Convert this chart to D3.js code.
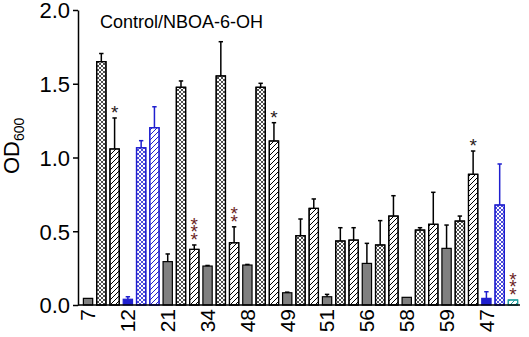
<!DOCTYPE html>
<html>
<head>
<meta charset="utf-8">
<script src="https://cdn.jsdelivr.net/npm/d3@7"></script>
<style>
  body { margin: 0; background: #fff; }
  text { font-family: "Liberation Sans", Arial, sans-serif; }
</style>
</head>
<body>
<div id="chart"></div>
<script>
// group names (x tick labels)
const groups = ["7", "12", "21", "34", "48", "49", "51", "56", "58", "59", "47"];

// solid grey bars
const solid    = [0.045, 0.039, 0.294, 0.264, 0.271, 0.083, 0.056, 0.282, 0.052, 0.384, 0.045];
const solidErr = [0, 0.017, 0.052, 0.004, 0.004, 0.004, 0.016, 0.136, 0, 0.158, 0.045];
// cross-hatched bars
const cross    = [1.65, 1.066, 1.476, 1.553, 1.476, 0.47, 0.434, 0.407, 0.508, 0.569, 0.678];
const crossErr = [0.055, 0.048, 0.043, 0.232, 0.027, 0.113, 0.09, 0.165, 0.016, 0.034, 0.278];
// diagonal hatched bars
const hatch    = [1.058, 1.202, 0.377, 0.422, 1.112, 0.655, 0.44, 0.603, 0.547, 0.886, 0.034];
const hatchErr = [0.21, 0.142, 0.03, 0.108, 0.124, 0.064, 0.084, 0.138, 0.217, 0.158, 0];
const hatchStars = [1, 0, 3, 2, 1, 0, 0, 0, 0, 1, 3];

// colour tone per bar ("k" black, "b" blue, "c" cyan)
const solidTone = ["k", "b", "k", "k", "k", "k", "k", "k", "k", "k", "b"];
const crossTone = ["k", "b", "k", "k", "k", "k", "k", "k", "k", "k", "b"];
const hatchTone = ["k", "b", "k", "k", "k", "k", "k", "k", "k", "k", "c"];

const yTicks = [0, 0.5, 1, 1.5, 2];

const width = 529, height = 337;
const tones = { k: "#000000", b: "#1f1fcf", c: "#20a0a0" };

// flatten into one bar list
let bars = [];
groups.forEach((g, i) => {
    bars.push({ id: g + "-s", g: g, kind: "s", v: solid[i], e: solidErr[i], tone: solidTone[i], stars: 0 });
    bars.push({ id: g + "-x", g: g, kind: "x", v: cross[i], e: crossErr[i], tone: crossTone[i], stars: 0 });
    bars.push({ id: g + "-h", g: g, kind: "h", v: hatch[i], e: hatchErr[i], tone: hatchTone[i], stars: hatchStars[i] });
});

let svg = d3.select("#chart")
    .append("svg")
    .attr("width", width)
    .attr("height", height);

// patterns
let defs = svg.append("defs");
Object.keys(tones).forEach(t => {
    defs.append("pattern")
        .attr("id", "cross-" + t)
        .attr("patternUnits", "userSpaceOnUse")
        .attr("width", 4).attr("height", 4)
        .append("path")
        .attr("d", "M0,0 L4,4 M4,0 L0,4")
        .attr("stroke", t === "k" ? "#222" : tones[t])
        .attr("stroke-width", 0.8);
    defs.append("pattern")
        .attr("id", "hatch-" + t)
        .attr("patternUnits", "userSpaceOnUse")
        .attr("width", 5).attr("height", 5)
        .append("path")
        .attr("d", "M-1,1 l2,-2 M0,5 l5,-5 M4,6 l2,-2")
        .attr("stroke", tones[t])
        .attr("stroke-width", 1);
});

let x = d3.scaleBand()
    .domain(bars.map(d => d.id))
    .range([81.4, 519.6])
    .paddingInner(0.3)
    .paddingOuter(0.15);

let y = d3.scaleLinear()
    .domain([0, 2])
    .range([305, 10]);

function fillOf(d) {
    if (d.kind === "s") return d.tone === "k" ? "#808080" : tones[d.tone];
    if (d.kind === "x") return "url(#cross-" + d.tone + ")";
    return "url(#hatch-" + d.tone + ")";
}

// bars
let bar = svg.selectAll(".bar")
    .data(bars)
    .join("g")
    .attr("class", "bar");

bar.append("rect")
    .attr("x", d => x(d.id))
    .attr("width", x.bandwidth())
    .attr("y", d => y(d.v))
    .attr("height", d => y(0) - y(d.v))
    .attr("fill", d => d.kind === "s" ? fillOf(d) : "#fff")
    .attr("stroke", d => tones[d.tone])
    .attr("stroke-width", 1.2);

bar.filter(d => d.kind !== "s")
    .append("rect")
    .attr("x", d => x(d.id))
    .attr("width", x.bandwidth())
    .attr("y", d => y(d.v))
    .attr("height", d => y(0) - y(d.v))
    .attr("fill", d => fillOf(d))
    .attr("stroke", d => tones[d.tone])
    .attr("stroke-width", 1.2);

// error bars (upper only)
let eb = bar.filter(d => d.e > 0);
eb.append("line")
    .attr("x1", d => x(d.id) + x.bandwidth() / 2)
    .attr("x2", d => x(d.id) + x.bandwidth() / 2)
    .attr("y1", d => y(d.v))
    .attr("y2", d => y(d.v + d.e))
    .attr("stroke", d => tones[d.tone])
    .attr("stroke-width", 1.5);
eb.append("line")
    .attr("x1", d => x(d.id) + x.bandwidth() / 2 - 2.2)
    .attr("x2", d => x(d.id) + x.bandwidth() / 2 + 2.2)
    .attr("y1", d => y(d.v + d.e))
    .attr("y2", d => y(d.v + d.e))
    .attr("stroke", d => tones[d.tone])
    .attr("stroke-width", 1.5);

// significance stars, stacked in one text per bar
let st = bar.filter(d => d.stars > 0)
    .append("text")
    .attr("text-anchor", "middle")
    .style("font-size", "19px")
    .style("fill", d => d.stars > 1 ? "#6b1e1e" : "#2a1a1a");
st.selectAll("tspan")
    .data(d => d3.range(d.stars).map(i => ({ d: d, i: i })))
    .join("tspan")
    .attr("x", s => x(s.d.id) + x.bandwidth() / 2)
    .attr("y", s => y(s.d.v + s.d.e) + 1 - s.i * 7.5)
    .text("*");

// y axis
let yAxis = svg.append("g")
    .attr("transform", "translate(78,0)")
    .call(d3.axisLeft(y).tickValues(yTicks).tickFormat(d3.format(".1f")).tickSize(5).tickSizeOuter(0));
yAxis.selectAll("path, line").attr("stroke", "#000").attr("stroke-width", 1.5);
yAxis.selectAll("text")
    .style("font-size", "22px")
    .attr("fill", "#000")
    .attr("x", -8)
    .attr("dy", "0.36em");

// x axis: labels under the first bar of each group
let xAxis = svg.append("g")
    .attr("transform", `translate(0,${y(0)})`)
    .call(d3.axisBottom(x)
        .tickValues(groups.map(g => g + "-s"))
        .tickFormat(id => id.split("-")[0])
        .tickSize(0));
xAxis.select(".domain").remove();
xAxis.selectAll("text")
    .style("font-size", "21px")
    .attr("fill", "#000")
    .attr("text-anchor", "end")
    .attr("transform", "rotate(-90)")
    .attr("x", -4)
    .attr("y", 0)
    .attr("dy", "0.35em");

svg.append("line")
    .attr("x1", 78).attr("x2", 520)
    .attr("y1", y(0)).attr("y2", y(0))
    .attr("stroke", "#000")
    .attr("stroke-width", 1.5);

// y label OD600
let yl = svg.append("text")
    .attr("transform", "translate(19,174) rotate(-90)")
    .style("font-size", "22px");
yl.append("tspan").text("OD");
yl.append("tspan").attr("dy", 5).style("font-size", "14px").text("600");

// title
svg.append("text")
    .attr("x", 100)
    .attr("y", 28)
    .style("font-size", "18px")
    .text("Control/NBOA-6-OH");
</script>
</body>
</html>
